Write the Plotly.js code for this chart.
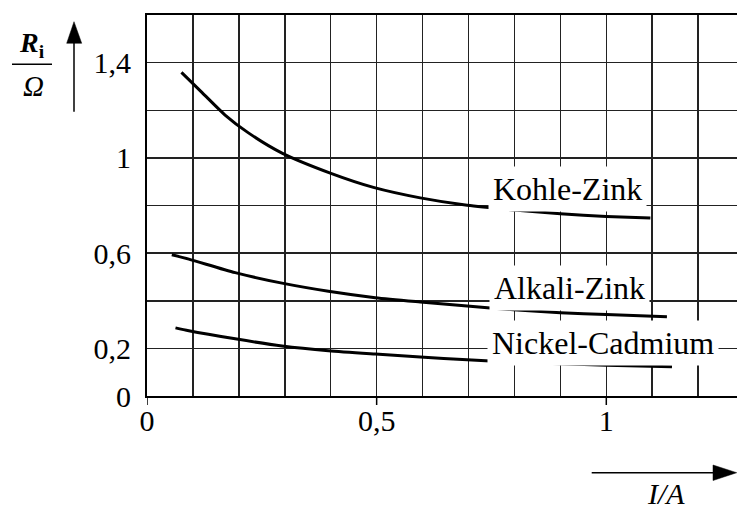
<!DOCTYPE html>
<html>
<head>
<meta charset="utf-8">
<script src="https://cdn.plot.ly/plotly-3.0.1.min.js"></script>
<style>html,body{margin:0;padding:0;background:#fff;}#chart{width:737px;height:510px;}</style>
</head>
<body>
<div id="chart"></div>
<script>
// ---- data ----
const seriesNames = ['Kohle-Zink', 'Alkali-Zink', 'Nickel-Cadmium'];

const kohleX = [0.075, 0.120, 0.170, 0.220, 0.294, 0.399, 0.493, 0.595, 0.697, 0.806, 0.900, 1.000, 1.096];
const kohleY = [1.359, 1.274, 1.180, 1.106, 1.020, 0.936, 0.876, 0.832, 0.801, 0.780, 0.765, 0.754, 0.747];

const alkaliX = [0.054, 0.091, 0.192, 0.294, 0.395, 0.497, 0.595, 0.697, 0.798, 0.900, 1.000, 1.132];
const alkaliY = [0.593, 0.575, 0.518, 0.474, 0.440, 0.413, 0.395, 0.378, 0.362, 0.350, 0.342, 0.333];

const nickelX = [0.062, 0.091, 0.192, 0.294, 0.395, 0.497, 0.595, 0.697, 0.798, 0.900, 1.000, 1.143];
const nickelY = [0.286, 0.274, 0.240, 0.210, 0.190, 0.176, 0.164, 0.152, 0.142, 0.135, 0.129, 0.123];

const xTickVals = [0, 0.5, 1];
const xTickText = ['0', '0,5', '1'];
const yTickVals = [0, 0.2, 0.6, 1, 1.4];
const yTickText = ['0', '0,2', '0,6', '1', '1,4'];

// ---- layout helpers (pixel -> paper) ----
const W = 737, H = 510;
const M = {l: 147, r: 0, t: 15, b: 114};
const PW = W - M.l - M.r, PH = H - M.t - M.b;
const px = x => (x - M.l) / PW;
const py = y => (H - M.b - y) / PH;

const FONT = 'Liberation Serif';
const INK = '#000';
const lineStyle = {color: INK, width: 3, shape: 'spline', smoothing: 0.7};

const traces = [
  {x: kohleX, y: kohleY, name: seriesNames[0]},
  {x: alkaliX, y: alkaliY, name: seriesNames[1]},
  {x: nickelX, y: nickelY, name: seriesNames[2]}
].map(t => Object.assign(t, {type: 'scatter', mode: 'lines', line: lineStyle, hoverinfo: 'skip'}));

const labelPos = [[567.7, 189], [569.5, 287.5], [603, 343]];
const annotations = seriesNames.map((n, i) => ({
  xref: 'paper', yref: 'paper', x: px(labelPos[i][0]), y: py(labelPos[i][1]),
  xanchor: 'center', yanchor: 'middle', text: n, showarrow: false,
  font: {family: FONT, size: 32, color: INK}, bgcolor: '#fff', borderpad: 4
}));

annotations.push(
  {xref: 'paper', yref: 'paper', x: px(32), y: py(44), xanchor: 'center', yanchor: 'middle',
   text: '<b><i>R</i></b><sub><b>i</b></sub>', showarrow: false,
   font: {family: FONT, size: 28, color: INK}},
  {xref: 'paper', yref: 'paper', x: px(33), y: py(86), xanchor: 'center', yanchor: 'middle',
   text: '<i>Ω</i>', showarrow: false, font: {family: FONT, size: 29, color: INK}},
  {xref: 'paper', yref: 'paper', x: px(666), y: py(493), xanchor: 'center', yanchor: 'middle',
   text: '<i>I/A</i>', showarrow: false, font: {family: FONT, size: 30, color: INK}}
);

const shapes = [
  // fraction bar
  {type: 'line', xref: 'paper', yref: 'paper', x0: px(12), x1: px(52), y0: py(64.3), y1: py(64.3),
   line: {color: INK, width: 1.5}},
  // y arrow
  {type: 'line', xref: 'paper', yref: 'paper', x0: px(74), x1: px(74), y0: py(111.7), y1: py(42),
   line: {color: INK, width: 1.5}},
  {type: 'path', xref: 'paper', yref: 'paper',
   path: `M ${px(66.7)} ${py(43.3)} L ${px(81.7)} ${py(43.3)} L ${px(74)} ${py(21.7)} Z`,
   fillcolor: INK, line: {color: INK, width: 0.5}},
  // x arrow
  {type: 'line', xref: 'paper', yref: 'paper', x0: px(591.7), x1: px(714), y0: py(472.7), y1: py(472.7),
   line: {color: INK, width: 1.5}},
  {type: 'path', xref: 'paper', yref: 'paper',
   path: `M ${px(713)} ${py(465)} L ${px(713)} ${py(480.5)} L ${px(736.7)} ${py(472.7)} Z`,
   fillcolor: INK, line: {color: INK, width: 0.5}}
];
// x tick marks below the axis
xTickVals.forEach(v => shapes.push({
  type: 'line', xref: 'x', yref: 'paper', x0: v, x1: v, y0: 0, y1: -9 / PH,
  line: {color: INK, width: 1.5}
}));

const gridC = '#222';
const layout = {
  width: W, height: H,
  margin: {l: M.l, r: M.r, t: M.t, b: M.b, pad: 0},
  paper_bgcolor: '#fff', plot_bgcolor: '#fff',
  showlegend: false,
  font: {family: FONT, color: INK},
  xaxis: {
    range: [0, PW / 459.3], tickvals: xTickVals, ticktext: xTickText,
    ticks: '', ticklabelstandoff: -3,
    showgrid: true, gridcolor: gridC, gridwidth: 1.5,
    minor: {dtick: 0.1, tick0: 0, showgrid: true, gridcolor: gridC, gridwidth: 1.5, ticks: ''},
    showline: true, linecolor: INK, linewidth: 2, mirror: true, zeroline: false,
    tickfont: {family: FONT, size: 30, color: INK}, fixedrange: true
  },
  yaxis: {
    range: [0, 1.6], tickvals: yTickVals, ticktext: yTickText,
    ticks: '', ticklabelstandoff: 8,
    showgrid: true, gridcolor: gridC, gridwidth: 1.5,
    minor: {dtick: 0.2, tick0: 0, showgrid: true, gridcolor: gridC, gridwidth: 1.5, ticks: ''},
    showline: true, linecolor: INK, linewidth: 2, zeroline: false,
    tickfont: {family: FONT, size: 30, color: INK}, fixedrange: true
  },
  annotations: annotations,
  shapes: shapes
};

Plotly.newPlot('chart', traces, layout, {staticPlot: true, displayModeBar: false});
</script>
</body>
</html>
